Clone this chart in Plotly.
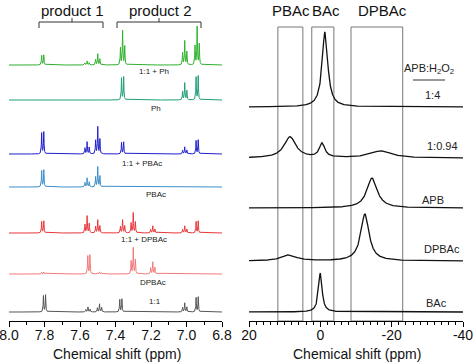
import numpy as np
import plotly.graph_objects as go

W, H = 474, 362

# ---------------- data: left panel (1H NMR, ppm) ----------------
left_names = ["1:1 + Ph", "Ph", "1:1 + PBAc", "PBAc", "1:1 + DPBAc", "DPBAc", "1:1"]
left_colors = ["#2eb02e", "#1f9e7a", "#2020cc", "#3a8ecb", "#e8363b", "#f27a7a", "#555555"]
ph11_centers = [7.81, 7.56, 7.50, 7.36, 7.01, 6.94]
ph11_heights = [10, 4, 11, 34, 24, 38]
ph11_mult = [2, 3, 3, 3, 3, 3]
ph_centers = [7.36, 7.01, 6.94]
ph_heights = [23, 17, 24]
ph_mult = [2, 3, 2]
pbac11_centers = [7.81, 7.56, 7.50, 7.36, 7.01, 6.94]
pbac11_heights = [22, 12, 27, 12, 7, 14]
pbac11_mult = [2, 3, 3, 2, 3, 2]
pbac_centers = [7.81, 7.56, 7.50]
pbac_heights = [17, 9, 20]
pbac_mult = [2, 3, 3]
dpbac11_centers = [7.81, 7.56, 7.50, 7.36, 7.30, 7.19, 7.01, 6.94]
dpbac11_heights = [12, 17, 13, 13, 20, 7, 7, 12]
dpbac11_mult = [2, 3, 3, 3, 3, 3, 3, 2]
dpbac_centers = [7.81, 7.55, 7.49, 7.30, 7.19]
dpbac_heights = [2, 19, 2, 26, 12]
dpbac_mult = [2, 2, 3, 3, 3]
r11_centers = [7.80, 7.555, 7.49, 7.37, 7.01, 6.94]
r11_heights = [17, 5, 8, 13, 9, 15]
r11_mult = [2, 3, 3, 2, 3, 2]
left_ticks = [8.0, 7.8, 7.6, 7.4, 7.2, 7.0, 6.8]

# ---------------- data: right panel (11B NMR, ppm) ----------------
right_names = ["1:4", "1:0.94", "APB", "DPBAc", "BAc"]
r14_centers = [-1.3]
r14_heights = [75]
r14_fwhm = [1.9]
r094_centers = [8.5, -0.5, -17.0]
r094_heights = [21, 14, 7]
r094_fwhm = [4.0, 1.8, 7.0]
apb_centers = [-14.5]
apb_heights = [30]
apb_fwhm = [3.5]
dp_centers = [-12.5, 8.8]
dp_heights = [47, 6]
dp_fwhm = [2.8, 5.0]
bac_centers = [0.0]
bac_heights = [39]
bac_fwhm = [1.2]
region_names = ["PBAc", "BAc", "DPBAc"]
region_lo = [4.9, -3.8, -23.1]
region_hi = [11.9, 2.4, -8.6]
right_ticks = [20, 0, -20, -40]

# ---------------- layout constants (pixels) ----------------
AX_Y = 321  # axis line, px from top
left_offsets = [65, 100, 154, 187, 233, 274, 312]
right_offsets = [107, 158, 208, 261, 312]


def px(x):
    return x / W


def py(y):
    return 1 - y / H


def multiplet(x, centers, heights, mults, J=0.012, hw=0.0018):
    y = np.zeros_like(x)
    for c, h, m in zip(centers, heights, mults):
        if m == 2:
            offs, wts = [-J / 2, J / 2], [1.0, 0.95]
        else:
            offs, wts = [-J, 0, J], [0.55, 1.0, 0.5]
        for o, w in zip(offs, wts):
            y += h * w * hw ** 2 / ((x - c - o) ** 2 + hw ** 2)
    return y


def lorentz(x, centers, heights, fwhm):
    y = np.zeros_like(x)
    for c, h, f in zip(centers, heights, fwhm):
        g = f / 2
        y += h * g ** 2 / ((x - c) ** 2 + g ** 2)
    return y


fig = go.Figure()

xl = np.linspace(6.8, 8.0, 3001)
left_specs = [
    (ph11_centers, ph11_heights, ph11_mult),
    (ph_centers, ph_heights, ph_mult),
    (pbac11_centers, pbac11_heights, pbac11_mult),
    (pbac_centers, pbac_heights, pbac_mult),
    (dpbac11_centers, dpbac11_heights, dpbac11_mult),
    (dpbac_centers, dpbac_heights, dpbac_mult),
    (r11_centers, r11_heights, r11_mult),
]
for name, col, off, (c, h, m) in zip(left_names, left_colors, left_offsets, left_specs):
    yv = (AX_Y - off) + multiplet(xl, c, h, m)
    fig.add_trace(go.Scatter(x=xl, y=yv, mode="lines", name=name,
                             line=dict(color=col, width=1), xaxis="x", yaxis="y",
                             hoverinfo="skip"))

xr = np.linspace(-40, 20, 1201)
right_specs = [
    (r14_centers, r14_heights, r14_fwhm),
    (r094_centers, r094_heights, r094_fwhm),
    (apb_centers, apb_heights, apb_fwhm),
    (dp_centers, dp_heights, dp_fwhm),
    (bac_centers, bac_heights, bac_fwhm),
]
for name, off, (c, h, f) in zip(right_names, right_offsets, right_specs):
    yv = (AX_Y - off) + lorentz(xr, c, h, f)
    fig.add_trace(go.Scatter(x=xr, y=yv, mode="lines", name=name,
                             line=dict(color="#111111", width=1.3), xaxis="x2", yaxis="y2",
                             hoverinfo="skip"))

shapes = []
for lo, hi in zip(region_lo, region_hi):
    shapes.append(dict(type="rect", xref="x2", yref="y2", x0=hi, x1=lo, y0=0, y1=AX_Y - 27,
                       line=dict(color="#777777", width=1), layer="below"))

for x0, x1, xc in [(39, 103, 72), (117, 201, 159)]:
    shapes.append(dict(type="line", xref="paper", yref="paper", x0=px(x0), x1=px(x1),
                       y0=py(22), y1=py(22), line=dict(color="#333", width=1)))
    for xe in (x0, x1):
        shapes.append(dict(type="line", xref="paper", yref="paper", x0=px(xe), x1=px(xe),
                           y0=py(22), y1=py(28), line=dict(color="#333", width=1)))
    shapes.append(dict(type="line", xref="paper", yref="paper", x0=px(xc), x1=px(xc),
                       y0=py(22), y1=py(18), line=dict(color="#333", width=1)))

shapes.append(dict(type="line", xref="paper", yref="paper", x0=px(413), x1=px(445),
                   y0=py(80), y1=py(80), line=dict(color="#333", width=1)))

annotations = []


def ann(text, x, y, size, color="#111"):
    annotations.append(dict(text=text, x=px(x), y=py(y), xref="paper", yref="paper",
                            showarrow=False, xanchor="center", yanchor="middle",
                            font=dict(size=size, color=color)))


ann("product 1", 72, 10, 15)
ann("product 2", 160, 10, 15)
for t, xx in zip(region_names, [291, 326, 382]):
    ann(t, xx, 10, 15)

left_label_pos = [(154, 72), (156, 108), (142, 163), (156, 194), (144, 239), (153, 282), (155, 301)]
for t, (xx, yy) in zip(left_names, left_label_pos):
    ann(t, xx, yy, 8, "#222")

ann("APB:H<sub>2</sub>O<sub>2</sub>", 429, 69, 11, "#222")
right_label_pos = [(432, 95), (442, 146), (433, 200), (442, 249), (436, 303)]
for t, (xx, yy) in zip(right_names, right_label_pos):
    ann(t, xx, yy, 11, "#222")

ann("Chemical shift (ppm)", 117, 354, 14)
ann("Chemical shift (ppm)", 357, 354, 14)

ydom = [(H - AX_Y) / H, 1]
axis_common = dict(showline=True, linecolor="black", linewidth=1, ticks="outside",
                   ticklen=5, tickwidth=1, tickcolor="black", showgrid=False,
                   zeroline=False, automargin=False, ticklabeloverflow="allow",
                   ticklabelstandoff=-4,
                   tickfont=dict(size=14, color="#111"))

fig.update_layout(
    width=W, height=H,
    autosize=False,
    margin=dict(l=0, r=0, t=0, b=0, pad=0, autoexpand=False),
    paper_bgcolor="white", plot_bgcolor="white",
    showlegend=False,
    font=dict(family="Arial, Liberation Sans, sans-serif"),
    xaxis=dict(domain=[px(9), px(222)], range=[8.0, 6.8], anchor="y",
               tickmode="array", tickvals=left_ticks,
               ticktext=[f"{v:.1f}" for v in left_ticks],
               minor=dict(ticks="outside", dtick=0.1, tick0=6.8, ticklen=3, tickcolor="black"),
               **axis_common),
    yaxis=dict(domain=ydom, range=[0, AX_Y], visible=False, anchor="x"),
    xaxis2=dict(domain=[px(249), px(463)], range=[20, -40], anchor="y2",
                tickmode="array", tickvals=right_ticks,
                ticktext=[str(v) for v in right_ticks],
                minor=dict(ticks="outside", dtick=2, tick0=0, ticklen=3, tickcolor="black"),
                **axis_common),
    yaxis2=dict(domain=ydom, range=[0, AX_Y], visible=False, anchor="x2"),
    shapes=shapes,
    annotations=annotations,
)

fig.write_html("out.html", config={"responsive": False, "displayModeBar": False},
               post_script="document.body.style.margin='0';document.body.style.overflow='hidden';")
